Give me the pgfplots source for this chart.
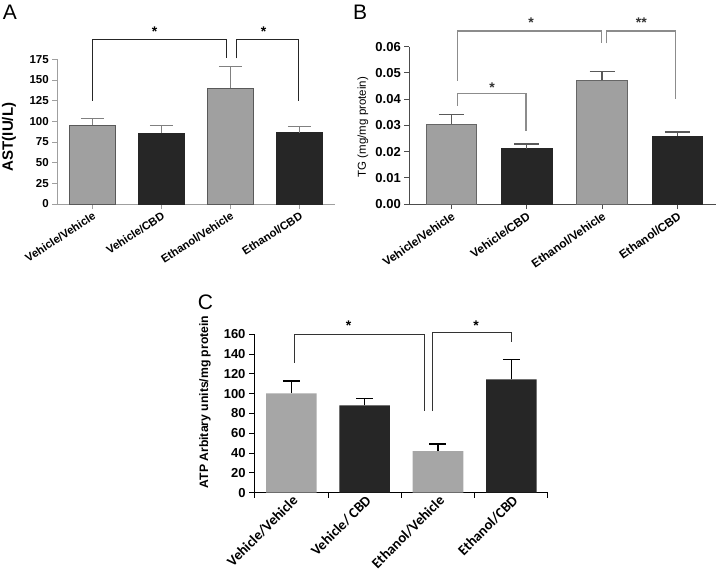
\documentclass[border=0pt]{standalone}
\usepackage{pgfplots}
\pgfplotsset{compat=1.18}
\usepackage{fontspec}
\setmainfont{Liberation Sans}
\newfontfamily\carlito{Carlito}
\definecolor{lg}{HTML}{A0A0A0}
\definecolor{lgc}{HTML}{A6A6A6}
\definecolor{dg}{HTML}{262626}
\definecolor{brB}{HTML}{8C8C8C}
\begin{document}
\begin{tikzpicture}
\path[use as bounding box] (0,0) rectangle (718bp,-573bp);
% panel letters and axis titles
\node[font=\fontsize{21bp}{23bp}\selectfont] at (10bp,-12.5bp) {A};
\node[font=\fontsize{21bp}{23bp}\selectfont] at (360bp,-12.5bp) {B};
\node[font=\fontsize{21bp}{23bp}\selectfont] at (205.5bp,-302.5bp) {C};
\node[rotate=90,font=\bfseries\fontsize{15bp}{17bp}\selectfont] at (9bp,-137bp) {AST(IU/L)};
\node[rotate=90,font=\fontsize{11.5bp}{13bp}\selectfont] at (363bp,-127bp) {TG (mg/mg protein)};
\node[rotate=90,font=\bfseries\fontsize{12.2bp}{14bp}\selectfont] at (205bp,-402bp) {ATP Arbitary units/mg protein};

% ---------------- Panel A ----------------
\begin{axis}[
  at={(57.3bp,-204bp)}, anchor=south west, scale only axis,
  width=278bp, height=144.7bp,
  xmin=-0.51, xmax=3.52, ymin=0, ymax=175,
  axis x line*=bottom, axis y line*=left,
  axis line style={draw=gray!75, line width=0.6bp},
  clip=false,
  xtick={0,1,2,3},
  xticklabels={Vehicle/Vehicle, Vehicle/CBD, Ethanol/Vehicle, Ethanol/CBD},
  xticklabel style={rotate=33, anchor=north east, inner sep=1.5bp, font=\bfseries\fontsize{11.3bp}{12bp}\selectfont},
  ytick={0,25,50,75,100,125,150,175},
  yticklabels={0,25,50,75,100,125,150,175},
  yticklabel style={font=\bfseries\fontsize{11.5bp}{12bp}\selectfont},
  tick align=outside, major tick length=5bp,
  tick style={draw=gray!75, line width=0.6bp},
]
\addplot[ybar, bar width=0.67, bar shift=0pt, fill=lg, draw=gray!70!black, line width=0.5bp,
  error bars/.cd, y dir=plus, y explicit,
  error bar style={draw=gray, line width=0.6bp},
  error mark options={rotate=90, mark size=11.5bp, draw=gray, line width=0.6bp}]
  coordinates {(0,95.5) +- (0,8.1) (2,140) +- (0,26)};
\addplot[ybar, bar width=0.67, bar shift=0pt, fill=dg, draw=dg, line width=0.5bp,
  error bars/.cd, y dir=plus, y explicit,
  error bar style={draw=gray, line width=0.6bp},
  error mark options={rotate=90, mark size=11.5bp, draw=gray, line width=0.6bp}]
  coordinates {(1,85.5) +- (0,9.2) (3,86.2) +- (0,7.3)};
\addplot[no marks, sharp plot, draw=black!85, line width=0.9bp] coordinates {(0,125) (0,199) (1.94,199) (1.94,176)};
\addplot[no marks, sharp plot, draw=black!85, line width=0.9bp] coordinates {(2.09,176) (2.09,199) (2.99,199) (2.99,124)};
\node[font=\bfseries\fontsize{14bp}{14bp}\selectfont, yshift=-3bp] at (axis cs:0.9,211.5) {*};
\node[font=\bfseries\fontsize{14bp}{14bp}\selectfont, yshift=-3bp] at (axis cs:2.48,211.5) {*};
\end{axis}

% ---------------- Panel B ----------------
\begin{axis}[
  at={(409.3bp,-204bp)}, anchor=south west, scale only axis,
  width=307bp, height=157.3bp,
  xmin=-0.557, xmax=3.515, ymin=0, ymax=0.06,
  scaled y ticks=false,
  axis x line*=bottom, axis y line*=left,
  axis line style={draw=black!70, line width=1bp},
  clip=false,
  xtick={0,1,2,3},
  xticklabels={Vehicle/Vehicle, Vehicle/CBD, Ethanol/Vehicle, Ethanol/CBD},
  xticklabel style={rotate=35, anchor=north east, inner sep=1.5bp, font=\bfseries\fontsize{11.8bp}{12bp}\selectfont},
  ytick={0,0.01,0.02,0.03,0.04,0.05,0.06},
  yticklabels={0.00,0.01,0.02,0.03,0.04,0.05,0.06},
  yticklabel style={font=\bfseries\fontsize{13bp}{14bp}\selectfont},
  tick align=outside, major tick length=5bp,
  tick style={draw=black!70, line width=1bp},
]
\addplot[ybar, bar width=0.67, bar shift=0pt, fill=lg, draw=black!60, line width=0.8bp,
  error bars/.cd, y dir=plus, y explicit,
  error bar style={draw=black!65, line width=1.3bp},
  error mark options={rotate=90, mark size=12.5bp, draw=black!65, line width=1.3bp}]
  coordinates {(0,0.0305) +- (0,0.0037) (2,0.0473) +- (0,0.0033)};
\addplot[ybar, bar width=0.67, bar shift=0pt, fill=dg, draw=dg, line width=0.8bp,
  error bars/.cd, y dir=plus, y explicit,
  error bar style={draw=black!65, line width=1.3bp},
  error mark options={rotate=90, mark size=12.5bp, draw=black!65, line width=1.3bp}]
  coordinates {(1,0.0211) +- (0,0.0018) (3,0.0259) +- (0,0.0016)};
\addplot[no marks, sharp plot, draw=brB, line width=1.3bp] coordinates {(0.08,0.047) (0.08,0.066) (1.99,0.066) (1.99,0.0613)};
\addplot[no marks, sharp plot, draw=brB, line width=1.3bp] coordinates {(2.06,0.0613) (2.06,0.066) (2.97,0.066) (2.97,0.040)};
\addplot[no marks, sharp plot, draw=brB, line width=1.3bp] coordinates {(0.08,0.0374) (0.08,0.0422) (0.99,0.0422) (0.99,0.028)};
\node[font=\bfseries\fontsize{14bp}{14bp}\selectfont, text=black!80, yshift=-3bp] at (axis cs:1.06,0.0702) {*};
\node[font=\bfseries\fontsize{14bp}{14bp}\selectfont, text=black!80, yshift=-3bp] at (axis cs:2.52,0.0702) {**};
\node[font=\bfseries\fontsize{14bp}{14bp}\selectfont, text=black!80, yshift=-3bp] at (axis cs:0.54,0.0457) {*};
\end{axis}

% ---------------- Panel C ----------------
\begin{axis}[
  at={(254bp,-492.7bp)}, anchor=south west, scale only axis,
  width=294.3bp, height=158.4bp,
  xmin=-0.51, xmax=3.505, ymin=0, ymax=160,
  axis x line*=bottom, axis y line*=left,
  axis line style={draw=black, line width=1bp},
  clip=false,
  xtick={-0.5,0.5,1.5,2.5,3.5},
  xticklabels={},
  extra x ticks={0,1,2,3},
  extra x tick labels={Vehicle/Vehicle, Vehicle/ CBD, Ethanol/Vehicle, Ethanol/CBD},
  extra x tick style={major tick length=0pt,
     xticklabel style={rotate=45, anchor=north east, inner sep=1bp, font=\carlito\bfseries\fontsize{14.5bp}{15bp}\selectfont}},
  ytick={0,20,40,60,80,100,120,140,160},
  yticklabels={0,20,40,60,80,100,120,140,160},
  yticklabel style={font=\bfseries\fontsize{13bp}{14bp}\selectfont},
  tick align=outside, major tick length=5bp,
  tick style={draw=black, line width=1bp},
]
\addplot[ybar, bar width=0.69, bar shift=0pt, fill=lgc, draw=none,
  error bars/.cd, y dir=plus, y explicit,
  error bar style={draw=black, line width=1.3bp},
  error mark options={rotate=90, mark size=8.5bp, draw=black, line width=1.3bp}]
  coordinates {(0,100.4) +- (0,12.4) (2,42.1) +- (0,7.1)};
\addplot[ybar, bar width=0.69, bar shift=0pt, fill=dg, draw=none,
  error bars/.cd, y dir=plus, y explicit,
  error bar style={draw=black, line width=1.3bp},
  error mark options={rotate=90, mark size=8.5bp, draw=black, line width=1.3bp}]
  coordinates {(1,88.3) +- (0,6.7) (3,114.5) +- (0,19.8)};
\addplot[no marks, sharp plot, draw=black!80, line width=1bp] coordinates {(0.04,131.3) (0.04,160) (1.81,160) (1.81,82.5)};
\addplot[no marks, sharp plot, draw=black!80, line width=1bp] coordinates {(1.92,82.5) (1.92,161.6) (3.0,161.6) (3.0,152.5)};
\node[font=\bfseries\fontsize{14bp}{14bp}\selectfont, yshift=-3bp] at (axis cs:0.78,171.7) {*};
\node[font=\bfseries\fontsize{14bp}{14bp}\selectfont, yshift=-3bp] at (axis cs:2.52,171.7) {*};
\end{axis}
\end{tikzpicture}
\end{document}
